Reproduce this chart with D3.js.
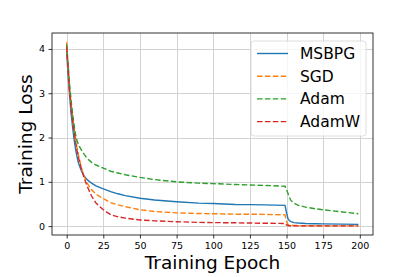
<!DOCTYPE html>
<html>
<head>
<meta charset="utf-8">
<script src="https://cdn.jsdelivr.net/npm/d3@7"></script>
<style>
  body { margin: 0; background: #fff; }
  svg { display: block; font-family: "DejaVu Sans", sans-serif; }
</style>
</head>
<body>
<svg id="chart" width="415" height="277"></svg>
<script>
const epochs = [0, 1, 2, 3, 4, 5, 6, 7, 8, 10, 12, 14, 17, 20, 25, 30, 35, 40, 50, 60, 75, 90, 100, 115, 125, 135, 149, 150, 151, 152, 153, 155, 158, 163, 170, 175, 188, 199];

const msbpg = [3.95, 3.4, 2.95, 2.55, 2.25, 1.98, 1.75, 1.58, 1.43, 1.25, 1.13, 1.05, 0.97, 0.91, 0.84, 0.78, 0.73, 0.69, 0.63, 0.59, 0.55, 0.52, 0.51, 0.49, 0.485, 0.48, 0.47, 0.3, 0.17, 0.12, 0.1, 0.08, 0.07, 0.06, 0.055, 0.05, 0.045, 0.04];
const sgd = [4.15, 3.6, 3.1, 2.75, 2.45, 2.2, 1.98, 1.78, 1.62, 1.32, 1.12, 0.97, 0.82, 0.72, 0.62, 0.53, 0.48, 0.44, 0.37, 0.33, 0.3, 0.285, 0.28, 0.27, 0.27, 0.265, 0.255, 0.1, 0.04, 0.025, 0.02, 0.015, 0.012, 0.01, 0.008, 0.007, 0.006, 0.005];
const adam = [4.1, 3.65, 3.2, 2.85, 2.55, 2.3, 2.08, 1.94, 1.84, 1.72, 1.62, 1.53, 1.44, 1.38, 1.31, 1.24, 1.2, 1.16, 1.1, 1.05, 1.0, 0.97, 0.96, 0.94, 0.93, 0.92, 0.9, 0.82, 0.74, 0.65, 0.58, 0.52, 0.47, 0.43, 0.39, 0.37, 0.32, 0.28];
const adamw = [4.05, 3.55, 3.05, 2.7, 2.4, 2.15, 1.92, 1.72, 1.55, 1.3, 1.08, 0.9, 0.68, 0.52, 0.37, 0.26, 0.21, 0.18, 0.14, 0.12, 0.1, 0.085, 0.08, 0.075, 0.07, 0.065, 0.06, 0.03, 0.015, 0.01, 0.008, 0.006, 0.005, 0.005, 0.005, 0.005, 0.005, 0.005];

const seriesNames = ["MSBPG", "SGD", "Adam", "AdamW"];
const seriesValues = [msbpg, sgd, adam, adamw];
const seriesColors = ["#1f77b4", "#ff7f0e", "#2ca02c", "#d62728"];
const seriesDash = [null, "5.5,2.4", "5.5,2.4", "5.5,2.4"];

const xTicks = [0, 25, 50, 75, 100, 125, 150, 175, 200];
const yTicks = [0, 1, 2, 3, 4];

const svg = d3.select("#chart");
const margin = { top: 33, right: 42, bottom: 42, left: 52 };
const width = +svg.attr("width");
const height = +svg.attr("height");
const innerW = width - margin.left - margin.right;
const innerH = height - margin.top - margin.bottom;

const g = svg.append("g")
  .attr("transform", `translate(${margin.left},${margin.top})`);

const x = d3.scaleLinear().domain([-10, 209]).range([0, innerW]);
const y = d3.scaleLinear().domain([-0.2, 4.36]).range([innerH, 0]);

// grid
g.append("g").selectAll("line")
  .data(xTicks)
  .join("line")
  .attr("x1", d => Math.round(x(d)) + 0.5).attr("x2", d => Math.round(x(d)) + 0.5)
  .attr("y1", 0).attr("y2", innerH)
  .attr("stroke", "#d3d3d3").attr("stroke-width", 1);
g.append("g").selectAll("line")
  .data(yTicks)
  .join("line")
  .attr("y1", d => Math.round(y(d)) + 0.5).attr("y2", d => Math.round(y(d)) + 0.5)
  .attr("x1", 0).attr("x2", innerW)
  .attr("stroke", "#d3d3d3").attr("stroke-width", 1);

// axes
const xAxis = g.append("g")
  .attr("transform", `translate(0,${innerH})`)
  .call(d3.axisBottom(x).tickValues(xTicks).tickFormat(d3.format("d"))
    .tickSize(3.5).tickPadding(3.5).tickSizeOuter(0));
const yAxis = g.append("g")
  .call(d3.axisLeft(y).tickValues(yTicks).tickFormat(d3.format("d"))
    .tickSize(3.5).tickPadding(3.5).tickSizeOuter(0));
[xAxis, yAxis].forEach(a => {
  a.select(".domain").remove();
  a.selectAll("text").attr("font-size", "9.5px").attr("fill", "#000")
    .attr("font-family", "DejaVu Sans, sans-serif");
  a.selectAll("line").attr("stroke", "#000").attr("stroke-width", 0.8);
});

// lines
const line = d3.line()
  .x((d, i) => x(epochs[i]))
  .y(d => y(d));

seriesValues.forEach((vals, k) => {
  g.append("path")
    .datum(vals)
    .attr("fill", "none")
    .attr("stroke", seriesColors[k])
    .attr("stroke-width", 1.4)
    .attr("stroke-dasharray", seriesDash[k])
    .attr("d", line);
});

// frame
g.append("rect")
  .attr("x", 0).attr("y", 0)
  .attr("width", innerW).attr("height", innerH)
  .attr("fill", "none").attr("stroke", "#000").attr("stroke-width", 0.8);

// legend
const legend = g.append("g").attr("transform", `translate(${innerW - 122},${8})`);
legend.append("rect")
  .attr("x", 0).attr("y", 0)
  .attr("width", 115).attr("height", 95)
  .attr("rx", 3)
  .attr("fill", "#fff").attr("fill-opacity", 0.8)
  .attr("stroke", "#d6d6d6").attr("stroke-width", 0.8);

seriesNames.forEach((name, k) => {
  const cy = 12.5 + k * 22.7;
  legend.append("line")
    .attr("x1", 6).attr("x2", 37)
    .attr("y1", cy).attr("y2", cy)
    .attr("stroke", seriesColors[k])
    .attr("stroke-width", 1.4)
    .attr("stroke-dasharray", seriesDash[k]);
  legend.append("text")
    .attr("x", 49).attr("y", cy + 5.5)
    .attr("font-size", "15.5px")
    .text(name);
});

// axis titles
svg.append("text")
  .attr("x", margin.left + innerW / 2)
  .attr("y", 269)
  .attr("text-anchor", "middle")
  .attr("font-size", "18.5px")
  .text("Training Epoch");

svg.append("text")
  .attr("transform", `translate(32,${margin.top + innerH / 2}) rotate(-90)`)
  .attr("text-anchor", "middle")
  .attr("font-size", "18.5px")
  .text("Training Loss");
</script>
</body>
</html>
